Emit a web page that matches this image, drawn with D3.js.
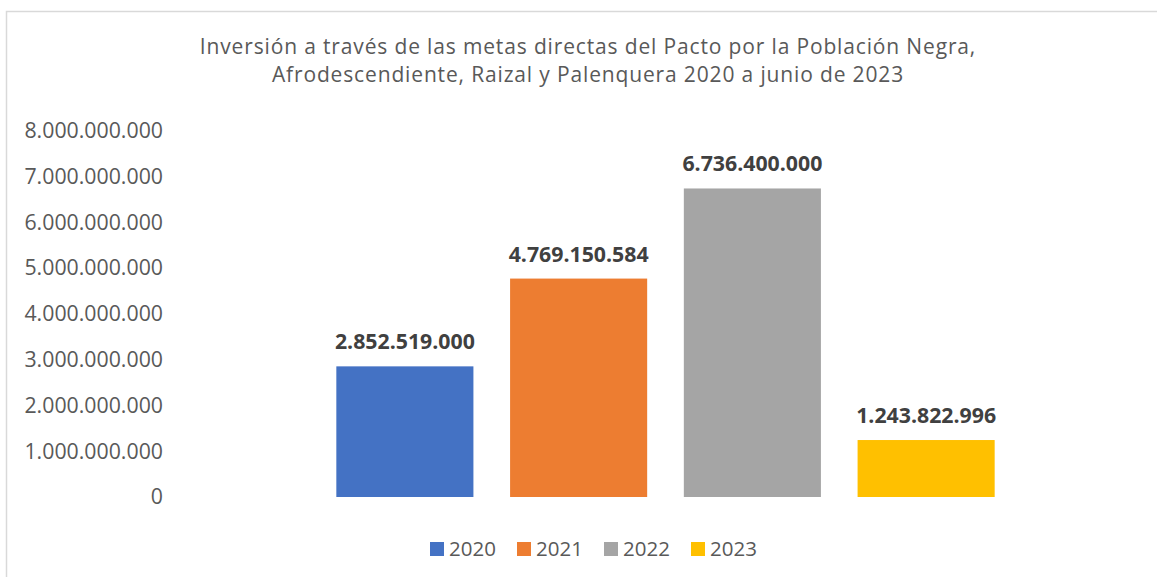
<!DOCTYPE html>
<html>
<head>
<meta charset="utf-8">
<script src="https://cdn.jsdelivr.net/npm/d3@7"></script>
<style>
  body { margin: 0; background: #fff; }
  text { font-family: "Open Sans", sans-serif; }
</style>
</head>
<body>
<script>
const years = ["2020", "2021", "2022", "2023"];
const values = [2852519000, 4769150584, 6736400000, 1243822996];
const colors = ["#4472C4", "#ED7D31", "#A5A5A5", "#FFC000"];
const yTicks = [0, 1e9, 2e9, 3e9, 4e9, 5e9, 6e9, 7e9, 8e9];
const titleLines = [
  "Inversión a través de las metas directas del Pacto por la Población Negra,",
  "Afrodescendiente, Raizal y Palenquera 2020 a junio de 2023"
];

const width = 1157, height = 577;
const locale = d3.formatLocale({ decimal: ",", thousands: ".", grouping: [3], currency: ["", ""] });
const fmt = locale.format(",d");

let svg = d3.select("body")
            .append("svg")
            .attr("width", width)
            .attr("height", height);

// chart frame
svg.append("rect")
   .attr("x", 6.5).attr("y", 11.5)
   .attr("width", width + 10).attr("height", height + 10)
   .attr("fill", "#fff")
   .attr("stroke", "#d9d9d9")
   .attr("stroke-width", 1.5);

svg.selectAll(".title")
   .data(titleLines)
   .enter()
   .append("text")
   .attr("class", "title")
   .attr("x", 588)
   .attr("y", (d, i) => 54 + i * 28)
   .attr("text-anchor", "middle")
   .attr("font-size", 21)
   .attr("letter-spacing", 0.85)
   .attr("fill", "#595959")
   .text(d => d);

const x = d3.scaleBand()
            .domain(years)
            .range([318, 1013])
            .paddingInner(0.211)
            .paddingOuter(0.1055);

const y = d3.scaleLinear()
            .domain([0, 8e9])
            .range([497, 130.6]);

const yAxis = svg.append("g")
                 .attr("transform", "translate(172,0)")
                 .call(d3.axisLeft(y).tickValues(yTicks).tickFormat(fmt).tickSize(0).tickPadding(9));
yAxis.select(".domain").remove();
yAxis.selectAll("text")
     .attr("font-family", "Open Sans, sans-serif")
     .attr("font-size", 21.3)
     .attr("fill", "#595959");

svg.selectAll(".bar")
   .data(values)
   .enter()
   .append("rect")
   .attr("class", "bar")
   .attr("x", (d, i) => x(years[i]))
   .attr("y", d => y(d))
   .attr("width", x.bandwidth())
   .attr("height", d => y(0) - y(d))
   .attr("fill", (d, i) => colors[i]);

svg.selectAll(".val")
   .data(values)
   .enter()
   .append("text")
   .attr("class", "val")
   .attr("x", (d, i) => x(years[i]) + x.bandwidth() / 2)
   .attr("y", d => y(d) - 17)
   .attr("text-anchor", "middle")
   .attr("font-size", 21.3)
   .attr("font-weight", "bold")
   .attr("fill", "#404040")
   .text(d => fmt(d));

// legend
const legend = svg.selectAll(".leg")
                  .data(years)
                  .enter()
                  .append("g")
                  .attr("class", "leg")
                  .attr("transform", (d, i) => "translate(" + (430 + i * 87) + ",542)");
legend.append("rect")
      .attr("width", 14).attr("height", 14)
      .attr("fill", (d, i) => colors[i]);
legend.append("text")
      .attr("x", 19).attr("y", 14)
      .attr("font-size", 20.5)
      .attr("fill", "#595959")
      .text(d => d);
</script>
</body>
</html>
